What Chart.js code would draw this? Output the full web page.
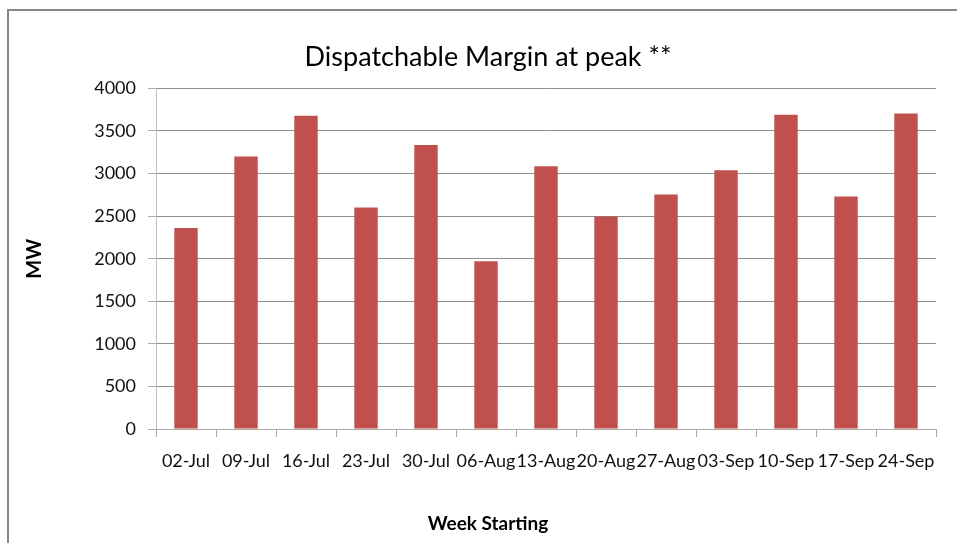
<!DOCTYPE html>
<html>
<head>
<meta charset="utf-8">
<script src="https://cdn.jsdelivr.net/npm/chart.js@4/dist/chart.umd.min.js"></script>
<style>
	html, body { margin:0; padding:0; background:#fff; }
	#wrap { width:957px; height:543px; position:relative; }
</style>
</head>
<body>
<div id="wrap"><canvas id="grafico" width="957" height="543"></canvas></div>
<script>
var semanas = ['02-Jul','09-Jul','16-Jul','23-Jul','30-Jul','06-Aug','13-Aug','20-Aug','27-Aug','03-Sep','10-Sep','17-Sep','24-Sep'];
var margen = [2360, 3200, 3680, 2600, 3335, 1970, 3085, 2495, 2755, 3040, 3690, 2730, 3705];
var tituloGrafico = 'Dispatchable Margin at peak **';
var tituloX = 'Week Starting';
var tituloY = 'MW';

var fuente = 'Lato, "Open Sans", sans-serif';

// marco gris del cuadro (Excel)
var marco = {
	id:'marco',
	beforeDraw:function(chart){
		var c = chart.ctx;
		c.save();
		c.fillStyle = '#fff';
		c.fillRect(0, 0, chart.width, chart.height);
		c.strokeStyle = '#878787';
		c.lineWidth = 2;
		c.beginPath();
		c.moveTo(8, chart.height);
		c.lineTo(8, 10);
		c.lineTo(chart.width, 10);
		c.stroke();
		c.restore();
	}
};

new Chart(document.getElementById('grafico'),{
	type:'bar',
	data:{
		labels:semanas,
		datasets:[{
			label:'MW',
			data:margen,
			backgroundColor:'#C0504D',
			categoryPercentage:1,
			barPercentage:0.39
		}]
	},
	options:{
		responsive:false,
		animation:false,
		devicePixelRatio:1,
		layout:{ padding:{ left:40, right:21, top:0, bottom:0 } },
		plugins:{
			legend:{ display:false },
			tooltip:{ enabled:false },
			title:{
				display:true,
				text:tituloGrafico,
				color:'#000',
				font:{ family:fuente, size:27, weight:'normal' },
				padding:{ top:41, bottom:15 }
			},
			subtitle:{
				display:true,
				position:'bottom',
				text:tituloX,
				color:'#000',
				font:{ family:fuente, size:19, weight:'bold' },
				padding:{ top:0, bottom:8 }
			}
		},
		scales:{
			x:{
				grid:{ drawOnChartArea:false, drawTicks:true, tickLength:8, color:'#aaa', tickColor:'#aaa' },
				border:{ color:'#aaa', width:1 },
				ticks:{ color:'#111', font:{ family:fuente, size:18 }, padding:13, maxRotation:0, minRotation:0, autoSkip:false },
				afterFit:function(scale){ scale.height = 83.2; }
			},
			y:{
				min:0,
				max:4000,
				ticks:{
					stepSize:500, color:'#111', font:{ family:fuente, size:18 }, padding:12,
					callback:function(v){ return String(v); }
				},
				grid:{ color:'#8e8e8e', tickColor:'#aaa', tickLength:8 },
				border:{ color:'#bbb', width:1 },
				title:{ display:true, text:tituloY, color:'#000', font:{ family:fuente, size:20, weight:'bold' }, padding:{ top:-17, bottom:0 } },
				afterFit:function(scale){ scale.width = 116; }
			}
		}
	},
	plugins:[marco]
});
</script>
</body>
</html>
